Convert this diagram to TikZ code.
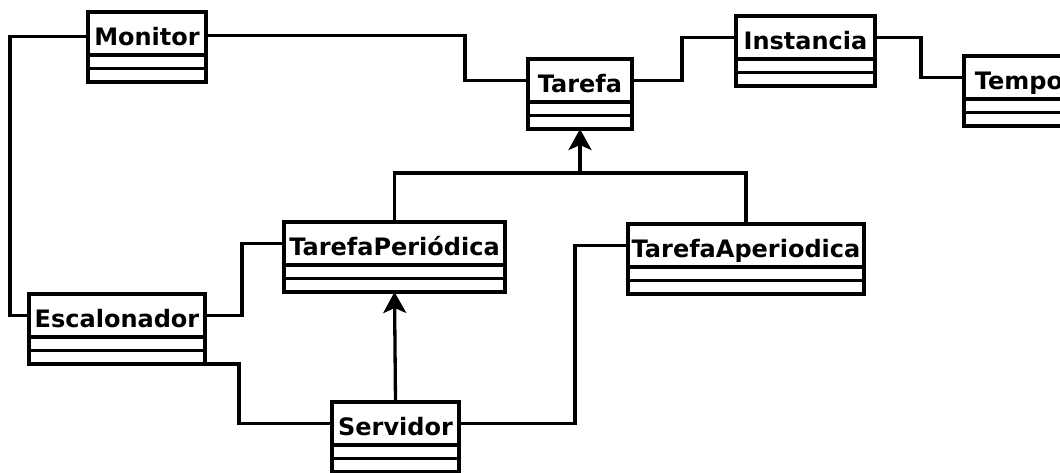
\documentclass[tikz,border=0pt]{standalone}
\usepackage{fontspec}
\setmainfont{DejaVu Sans}
\usetikzlibrary{arrows.meta}

% one UML class: name compartment plus two empty compartments below it
\newcommand{\umlclass}[5]{%
  \node[classname, minimum width=#4] (#1) at (#2,#3) {#5};
  \node[compart, minimum width=#4] (#1-a) at (#1.south) {};
  \node[compart, minimum width=#4] (#1-b) at (#1-a.south) {};
}

\tikzset{
  lw/.style={line width=3.3pt},
  classname/.style={draw, lw, minimum height=43pt, inner sep=0pt,
    outer sep=0pt, text height=23.5pt, text depth=0pt, anchor=north west,
    font=\fontsize{24}{28}\selectfont\bfseries},
  compart/.style={draw, lw, minimum height=13.5pt, inner sep=0pt,
    outer sep=0pt, anchor=north},
  assoc/.style={lw},
  inherit/.style={lw, -{Stealth[length=21pt,width=23pt,inset=5pt]}},
}

\begin{document}
\begin{tikzpicture}[x=1pt, y=-1pt]
  \useasboundingbox (0,0) rectangle (1060,472);
  \clip (0,0) rectangle (1060,472);

  \umlclass{mon}{88}{12}{118}{Monitor}
  \umlclass{tar}{528}{59}{104}{Tarefa}
  \umlclass{ins}{736}{16}{139}{Instancia}
  \umlclass{tmp}{964}{56}{110}{Tempo}
  \umlclass{esc}{29}{294}{176}{Escalonador}
  \umlclass{tper}{284}{222}{221}{TarefaPeriódica}
  \umlclass{taper}{628}{224}{236}{TarefaAperiodica}
  \umlclass{srv}{332}{402}{127}{Servidor}

  % associations
  \draw[assoc] ([yshift=-3pt]mon.west) -- ++(-78,0) |- (esc.west);
  \draw[assoc] ([yshift=-2pt]mon.east) -- ++(259,0) |- (tar.west);
  \draw[assoc] (tar.east) -- ++(50,0) |- (ins.west);
  \draw[assoc] (ins.east) -- ++(46,0) |- (tmp.west);
  \draw[assoc] (esc.east) -- ++(37,0) |- (tper.west);
  \draw[assoc] (esc-b.south east) -- ++(34,0) |- (srv.west);
  \draw[assoc] (srv.east) -- ++(116,0) |- (taper.west);

  % generalisations
  \coordinate (join) at ([yshift=-44pt]tar-b.south);
  \draw[assoc] (tper.north) |- (join) -| (taper.north);
  \draw[inherit] (join) -- (tar-b.south);
  \draw[inherit] (srv.north) -- (tper-b.south);
\end{tikzpicture}
\end{document}
